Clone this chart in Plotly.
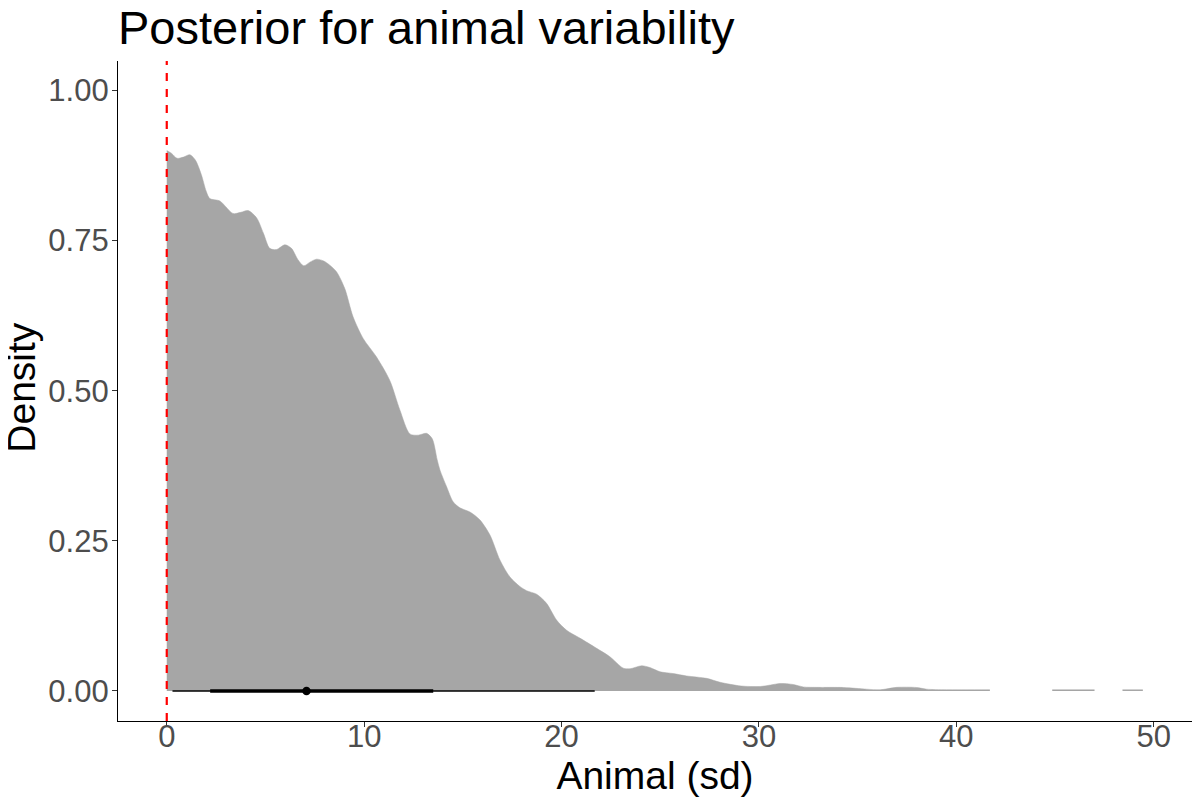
import plotly.graph_objects as go

# posterior density of the animal sd (scaled so the peak is 0.9, as ggdist does)
densidade_x = [
    0.00, 0.25, 0.52, 0.85, 1.17, 1.45, 1.75, 2.00, 2.18, 2.69, 3.00, 3.36,
    3.75, 4.12, 4.55, 4.90, 5.22, 5.56, 5.98, 6.32, 6.65, 6.94, 7.25, 7.59,
    7.95, 8.26, 8.60, 9.02, 9.44, 9.95, 10.63, 11.30, 11.81, 12.32, 12.74,
    13.16, 13.45, 13.70, 13.84, 14.18, 14.51, 14.85, 15.36, 15.86, 16.37,
    16.88, 17.38, 17.89, 18.23, 18.74, 19.24, 19.75, 20.26, 20.93, 21.78,
    22.45, 23.13, 23.47, 24.06, 24.48, 24.99, 25.66, 26.34, 27.35, 28.03,
    29.10, 30.06, 30.60, 31.07, 31.74, 32.25, 33.00, 34.28, 35.46, 36.14,
    36.98, 37.99, 38.50, 39.50, 41.70,
]
densidade_y = [
    0.900, 0.895, 0.887, 0.889, 0.893, 0.884, 0.860, 0.832, 0.820, 0.816, 0.806, 0.795,
    0.797, 0.800, 0.788, 0.762, 0.737, 0.735, 0.743, 0.737, 0.718, 0.708, 0.714, 0.719,
    0.716, 0.709, 0.698, 0.670, 0.623, 0.587, 0.556, 0.517, 0.468, 0.428, 0.426,
    0.429, 0.420, 0.385, 0.368, 0.340, 0.315, 0.305, 0.298, 0.285, 0.260,
    0.218, 0.190, 0.174, 0.167, 0.161, 0.146, 0.118, 0.101, 0.088, 0.071,
    0.057, 0.038, 0.037, 0.042, 0.039, 0.032, 0.029, 0.025, 0.021, 0.0145,
    0.0083, 0.0075, 0.010, 0.0125, 0.0108, 0.0067, 0.006, 0.0058, 0.003, 0.002,
    0.006, 0.0058, 0.003, 0.002, 0.002,
]
# little isolated bits of the tail
cauda_x = [[44.86, 47.00], [48.42, 49.45]]
cauda_y = [[0.002, 0.002], [0.002, 0.002]]

# point interval: median, 66% and 95% intervals
mediana = 7.08
intervalo_66 = [2.20, 13.50]
intervalo_95 = [0.29, 21.68]

eixo_x_ticks = [0, 10, 20, 30, 40, 50]
eixo_y_ticks = [0, 0.25, 0.5, 0.75, 1.0]

CINZA = '#A6A6A6'
FONTE = 'Liberation Sans, Arial, sans-serif'

# the page body has an 8px margin, so the figure is 8px smaller on each side
figura = go.Figure()

figura.add_trace(go.Scatter(
    x=densidade_x, y=densidade_y,
    mode='lines', line=dict(color=CINZA, width=0.5, shape='spline', smoothing=0.8),
    fill='tozeroy', fillcolor=CINZA, hoverinfo='skip', showlegend=False
))

for xs, ys in zip(cauda_x, cauda_y):
    figura.add_trace(go.Scatter(
        x=xs, y=ys, mode='lines', line=dict(color=CINZA, width=0.5),
        fill='tozeroy', fillcolor=CINZA, hoverinfo='skip', showlegend=False
    ))

figura.add_trace(go.Scatter(
    x=intervalo_95, y=[0, 0], mode='lines',
    line=dict(color='black', width=1.6), showlegend=False
))
figura.add_trace(go.Scatter(
    x=intervalo_66, y=[0, 0], mode='lines',
    line=dict(color='black', width=3.6), showlegend=False
))
figura.add_trace(go.Scatter(
    x=[mediana], y=[0], mode='markers',
    marker=dict(color='black', size=8.5), showlegend=False
))

# dashed reference line at zero
figura.add_shape(
    type='line', xref='x', yref='paper', x0=0, x1=0, y0=0, y1=1,
    line=dict(color='red', width=2.2, dash='8px,8px'), layer='above'
)

# y title as an annotation, the axis title can't get closer to the page edge
figura.add_annotation(
    text='Density', textangle=-90,
    xref='paper', yref='paper', x=0, y=0.505,
    xanchor='center', yanchor='middle', xshift=-96,
    showarrow=False, font=dict(size=39, color='black', family=FONTE)
)

figura.update_layout(
    width=1192,
    height=799,
    margin=dict(l=110, r=8, t=53, b=86),
    paper_bgcolor='white',
    plot_bgcolor='white',
    font=dict(family=FONTE),
    title=dict(
        text='Posterior for animal variability',
        font=dict(size=47, color='black', family=FONTE),
        x=0, xref='paper', xanchor='left',
        y=1 - 20 / 799, yref='container', yanchor='middle'
    ),
)

figura.update_xaxes(
    range=[-2.47, 51.94],
    tickvals=eixo_x_ticks,
    showgrid=False, zeroline=False,
    showline=True, linecolor='black', linewidth=1.2,
    ticks='outside', ticklen=5, tickwidth=1.2, tickcolor='#333333',
    tickfont=dict(size=31, color='#4D4D4D'),
    ticklabelstandoff=-17,
    title=dict(text='Animal (sd)', font=dict(size=39, color='black'), standoff=2),
    automargin=False
)

figura.update_yaxes(
    range=[-0.05, 1.049],
    tickvals=eixo_y_ticks,
    tickformat='.2f',
    showgrid=False, zeroline=False,
    showline=True, linecolor='black', linewidth=1.2,
    ticks='outside', ticklen=5, tickwidth=1.2, tickcolor='#333333',
    tickfont=dict(size=31, color='#4D4D4D'),
    ticklabelstandoff=-3,
    automargin=False
)

figura.write_html('out.html')
